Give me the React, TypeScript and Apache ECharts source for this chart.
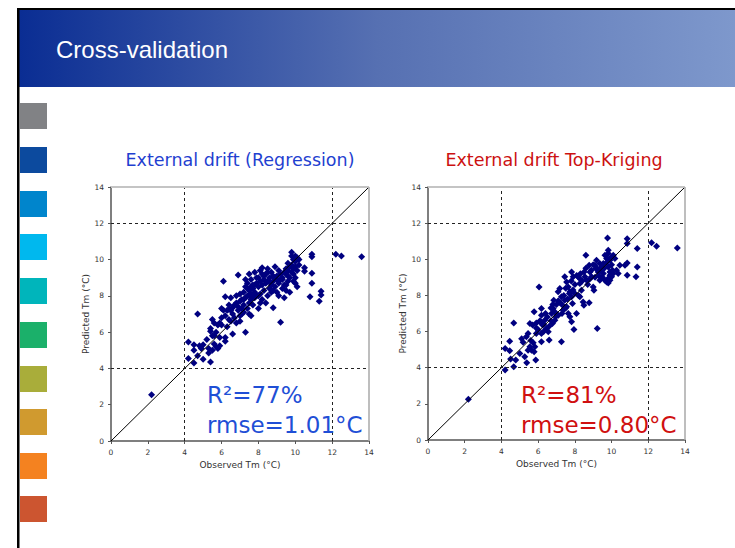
import React, { useEffect, useRef } from "react";
import * as echarts from "echarts";

// ---- data (observed, predicted) ----
const regressionPoints: [number, number][] = [
  [2.2, 2.55],
  [4.2, 5.45], [4.2, 4.55], [4.5, 5.3], [4.5, 5.0], [4.5, 4.3], [4.7, 4.7], [4.7, 7.0], [4.8, 5.25], [5.0, 4.5],
  [5.2, 5.6], [5.3, 4.85], [5.4, 4.35], [5.4, 6.2], [5.4, 6.05], [5.5, 5.0], [5.5, 6.7], [5.6, 5.8], [5.7, 5.2], [5.8, 5.1],
  [5.8, 6.4], [5.9, 5.25], [5.9, 6.5], [5.6, 5.35], [6.0, 6.8], [6.0, 7.3], [6.1, 7.2], [6.1, 8.8], [6.2, 7.95], [6.2, 5.7],
  [6.2, 5.5], [6.3, 7.2], [6.4, 7.25], [6.5, 7.2], [6.5, 6.6], [6.6, 5.9], [6.6, 7.35], [6.7, 7.5], [6.7, 6.8], [6.8, 8.0],
  [6.8, 7.6], [6.9, 9.15], [6.9, 7.4], [7.0, 6.9], [7.0, 7.7], [7.0, 8.1], [7.1, 7.0], [7.1, 7.8], [7.2, 8.2], [7.2, 7.5],
  [7.3, 6.0], [7.3, 7.9], [7.3, 8.5], [7.4, 7.3], [7.4, 8.0], [7.4, 8.7], [7.5, 9.2], [7.5, 8.3], [7.5, 7.6], [7.5, 7.0],
  [7.6, 8.9], [7.6, 8.1], [7.6, 7.8], [7.6, 6.9], [7.7, 8.6], [7.7, 8.4], [7.7, 7.5], [7.8, 9.3], [7.8, 8.2], [7.8, 7.9],
  [7.9, 8.7], [7.9, 8.0], [8.0, 9.0], [8.0, 7.3], [8.0, 8.5], [8.1, 9.4], [8.1, 8.1], [8.2, 9.55], [8.2, 8.6], [8.2, 7.8],
  [8.3, 8.9], [8.3, 8.3], [8.4, 8.7], [8.4, 9.2], [8.5, 9.5], [8.5, 8.0], [8.5, 8.8], [8.6, 9.0], [8.6, 8.4], [8.7, 9.3],
  [8.7, 8.6], [8.8, 7.35], [8.8, 9.1], [8.8, 8.8], [8.9, 9.6], [8.9, 8.5], [9.0, 8.9], [9.0, 9.1], [9.1, 8.0], [9.1, 8.7],
  [9.2, 6.55], [9.2, 8.9], [9.3, 8.4], [9.3, 9.0], [9.4, 7.9], [9.4, 8.6], [9.5, 9.2], [9.5, 9.5], [9.5, 8.3], [9.6, 9.8],
  [9.6, 9.4], [9.6, 8.8], [9.7, 9.6], [9.7, 9.0], [9.7, 8.2], [9.8, 10.4], [9.8, 10.2], [9.8, 9.3], [9.9, 10.0], [9.9, 8.8],
  [10.0, 9.9], [10.0, 9.6], [10.0, 8.7], [10.0, 9.0], [10.1, 10.1], [10.1, 9.4], [10.1, 8.5], [10.2, 10.0], [10.2, 9.7],
  [10.5, 9.55], [10.5, 9.35], [10.9, 10.3], [10.9, 10.15], [10.9, 9.25], [10.9, 8.7], [10.8, 7.95], [11.3, 7.7], [11.4, 8.25], [11.4, 8.05],
  [12.2, 10.3], [12.5, 10.2], [13.6, 10.15],
  [6.3, 6.3], [6.4, 6.7], [6.6, 7.0], [6.9, 7.2], [7.1, 7.3], [7.2, 7.8], [7.4, 8.4], [7.5, 8.0], [7.6, 8.5], [7.7, 8.0],
  [7.8, 8.6], [7.9, 9.0], [8.0, 8.0], [8.1, 8.8], [8.3, 9.1], [8.6, 8.8], [8.9, 9.0], [9.2, 9.2], [9.4, 9.3], [9.6, 9.1],
  [9.8, 9.7], [9.9, 9.5], [10.0, 10.2], [6.0, 6.4], [5.7, 6.0], [5.5, 5.8], [5.9, 5.7], [5.0, 5.3], [4.9, 5.1], [6.8, 6.5],
  [7.0, 6.6], [7.2, 7.1], [8.4, 7.6], [8.1, 7.6], [9.0, 8.2], [9.9, 9.2], [9.3, 8.9], [8.5, 9.3], [8.7, 8.2],
  [5.3, 5.1], [5.6, 6.5], [6.2, 6.9], [6.4, 7.5], [6.5, 7.9], [7.3, 8.9], [8.2, 9.2], [8.8, 8.3], [9.1, 9.4], [9.5, 8.6],
];

const topKrigingPoints: [number, number][] = [
  [2.2, 2.25],
  [4.2, 3.87], [4.2, 5.07], [4.45, 5.47], [4.45, 4.94], [4.5, 4.48], [4.67, 6.48], [4.67, 4.05], [4.78, 4.42], [5.0, 4.79],
  [5.27, 4.6], [5.38, 4.27], [5.18, 5.41], [5.36, 5.71], [5.45, 5.89], [5.55, 5.16], [5.45, 4.97], [5.64, 4.97], [5.73, 5.38], [5.82, 5.16],
  [5.78, 4.88], [5.87, 4.42], [5.55, 6.45], [5.7, 6.36], [5.78, 7.09], [6.05, 8.47], [5.9, 6.48], [6.09, 6.54], [6.24, 6.36], [6.18, 7.27],
  [6.18, 6.9], [6.18, 5.89], [6.18, 5.43], [6.36, 6.63], [6.45, 6.17], [6.55, 5.99], [6.6, 5.53], [6.73, 7.0], [6.82, 7.27], [6.85, 7.74],
  [6.78, 6.45], [6.91, 6.63], [6.96, 6.82], [7.09, 8.2], [7.18, 8.38], [7.27, 7.92], [7.33, 7.46], [7.36, 7.18], [7.27, 5.43], [7.45, 9.03],
  [7.55, 8.75], [7.64, 8.47], [7.45, 7.74], [7.55, 7.37], [7.64, 7.0], [7.73, 6.82], [7.82, 6.54], [7.73, 8.2], [7.82, 7.92], [7.87, 7.55],
  [7.82, 9.3], [7.91, 9.03], [7.95, 6.12], [8.09, 7.0], [8.18, 9.03], [8.27, 8.66], [8.36, 8.29], [8.27, 7.92], [8.45, 7.64], [8.49, 7.46],
  [8.6, 10.22], [8.55, 9.03], [8.64, 8.84], [8.78, 9.67], [8.82, 9.3], [8.91, 9.03], [9.0, 8.47], [9.04, 8.29], [8.78, 7.59], [9.09, 9.67],
  [9.15, 9.49], [9.18, 9.95], [9.27, 9.3], [9.36, 8.84], [9.22, 6.17], [9.55, 9.21], [9.64, 8.84], [9.73, 8.75], [9.82, 8.93], [9.91, 9.12],
  [9.95, 9.3], [9.78, 11.18], [9.82, 10.5], [9.82, 10.32], [9.91, 9.95], [10.0, 10.13], [10.09, 10.22], [10.18, 10.04], [9.82, 9.58], [9.91, 9.3],
  [10.0, 9.03], [10.09, 9.21], [10.05, 9.39], [9.91, 8.84], [9.82, 8.69], [10.45, 9.67], [10.73, 9.67], [10.85, 9.8], [10.85, 11.14], [10.85, 10.87],
  [10.85, 9.12], [11.33, 9.03], [11.4, 10.59], [11.4, 9.58], [12.18, 10.92], [12.45, 10.72], [13.58, 10.63], [9.55, 9.76], [9.45, 9.58], [9.36, 9.76],
  [10.27, 9.39], [10.36, 9.21], [9.64, 10.22], [9.73, 10.04],
  [6.3, 6.4], [6.5, 6.8], [6.7, 6.6], [6.9, 7.1], [7.0, 7.5], [7.1, 6.9], [7.2, 7.6], [7.3, 7.0], [7.4, 8.0], [7.5, 7.3],
  [7.6, 7.8], [7.7, 8.1], [7.8, 8.8], [7.9, 8.3], [8.0, 8.6], [8.1, 9.1], [8.2, 8.0], [8.3, 9.2], [8.4, 8.8], [8.5, 9.3],
  [8.6, 9.5], [8.7, 8.6], [8.9, 9.4], [9.0, 9.7], [9.1, 9.0], [9.2, 9.5], [9.3, 9.1], [9.4, 9.4], [9.5, 9.0], [9.6, 9.5],
  [9.7, 9.8], [9.8, 10.0], [10.0, 9.7], [6.0, 6.1], [6.1, 6.6], [5.9, 6.2], [6.3, 6.0], [6.6, 6.3], [6.8, 7.5],
  [5.1, 5.6], [5.6, 5.5], [5.9, 5.9], [6.4, 7.0], [6.7, 7.3], [7.1, 7.7], [7.5, 8.4], [8.0, 8.1], [8.3, 8.9], [8.8, 8.9],
];

const axisTicks = [0, 2, 4, 6, 8, 10, 12, 14];
const refLines = [4, 12];
const diagonal: [number, number][] = [[0, 0], [14, 14]];

const sideColors = [
  "#818285", "#0c4a9e", "#0085cc", "#00b8ee", "#00b5bb",
  "#1bb06a", "#a9ad3a", "#d09a2f", "#f48220", "#cc5530",
];
const squareTops = [103, 147, 191, 234, 278, 322, 366, 409, 453, 496];

const chartTitles = ["External drift (Regression)", "External drift Top-Kriging"];
const statsR2 = ["R²=77%", "R²=81%"];
const statsRmse = ["rmse=1.01°C", "rmse=0.80°C"];

const FONT = "DejaVu Sans";

export default function App() {
  const ref = useRef<HTMLDivElement>(null);

  useEffect(() => {
    document.body.style.margin = "0";
    if (!ref.current) return;
    const chart = echarts.init(ref.current, null, { renderer: "svg" });

    const grids = [
      { left: 111, top: 187, width: 258, height: 254 },
      { left: 428, top: 187, width: 257, height: 253 },
    ];
    const yNameGap = [19, 21];

    const mkX = (i: number) => ({
      type: "value",
      gridIndex: i,
      min: axisTicks[0],
      max: axisTicks[axisTicks.length - 1],
      interval: 2,
      name: "Observed Tm (°C)",
      nameLocation: "middle",
      nameGap: 19,
      nameTextStyle: { fontFamily: FONT, fontSize: 9, color: "#333" },
      axisLine: { show: true, lineStyle: { color: "#555", width: 1.5 } },
      axisTick: { show: true, inside: false, length: 3, lineStyle: { color: "#555" } },
      axisLabel: { fontFamily: FONT, fontSize: 7.5, color: "#333", margin: 7 },
      splitLine: { show: false },
    });
    const mkY = (i: number) => ({
      type: "value",
      gridIndex: i,
      min: axisTicks[0],
      max: axisTicks[axisTicks.length - 1],
      interval: 2,
      name: "Predicted Tm (°C)",
      nameLocation: "middle",
      nameRotate: 90,
      nameGap: yNameGap[i],
      nameTextStyle: { fontFamily: FONT, fontSize: 9, color: "#333" },
      axisLine: { show: true, lineStyle: { color: "#555", width: 1.5 } },
      axisTick: { show: true, inside: false, length: 3, lineStyle: { color: "#555" } },
      axisLabel: { fontFamily: FONT, fontSize: 7.5, color: "#333", margin: 7 },
      splitLine: { show: false },
    });

    const mkLines = (i: number) => ({
      type: "line",
      xAxisIndex: i,
      yAxisIndex: i,
      data: diagonal,
      symbol: "none",
      silent: true,
      z: 3,
      lineStyle: { color: "#000", width: 1 },
      markLine: {
        silent: true,
        symbol: "none",
        label: { show: false },
        data: [
          ...refLines.map((v) => ({ xAxis: v, lineStyle: { color: "#222", width: 1, type: [3, 3] } })),
          ...refLines.map((v) => ({ yAxis: v, lineStyle: { color: "#222", width: 1, type: [3, 3] } })),
          { yAxis: 14, lineStyle: { color: "#c4c4c4", width: 2, type: "solid" } },
          { xAxis: 14, lineStyle: { color: "#a8a8a8", width: 1.5, type: "solid" } },
        ],
      },
    });

    const mkScatter = (i: number, pts: [number, number][]) => ({
      type: "scatter",
      xAxisIndex: i,
      yAxisIndex: i,
      data: pts,
      symbol: "diamond",
      symbolSize: 7,
      z: 2,
      itemStyle: { color: "#000080", opacity: 1 },
    });

    const titleColors = ["#1f3fd0", "#cc1111"];
    const statColors = ["#1f4fd6", "#d01010"];
    const titleCenters = [240, 554];
    const statLeft = [207, 521];

    const graphics: any[] = [
      {
        type: "rect",
        shape: { x: 19, y: 8, width: 716, height: 79 },
        style: {
          fill: new echarts.graphic.LinearGradient(0, 0, 1, 0, [
            { offset: 0, color: "#0a2d93" },
            { offset: 0.5, color: "#5670b2" },
            { offset: 1, color: "#7e98cc" },
          ]),
        },
        silent: true,
      },
      { type: "rect", shape: { x: 17, y: 8, width: 718, height: 2 }, style: { fill: "#000" }, silent: true },
      { type: "rect", shape: { x: 17, y: 8, width: 2.5, height: 540 }, style: { fill: "#000" }, silent: true },
      {
        type: "text",
        x: 56,
        y: 49,
        style: {
          text: "Cross-validation",
          fill: "#fff",
          font: "24px 'Liberation Sans', Arial, sans-serif",
          verticalAlign: "middle",
          align: "left",
        },
        silent: true,
      },
      ...squareTops.map((t, k) => ({
        type: "rect",
        shape: { x: 20, y: t, width: 27, height: 26 },
        style: { fill: sideColors[k] },
        silent: true,
      })),
      ...chartTitles.map((txt, i) => ({
        type: "text",
        x: titleCenters[i],
        y: 160,
        style: {
          text: txt,
          fill: titleColors[i],
          font: `17.5px '${FONT}'`,
          align: "center",
          verticalAlign: "middle",
        },
        silent: true,
      })),
      ...statsR2.map((txt, i) => ({
        type: "text",
        x: statLeft[i],
        y: 395,
        z: 100,
        style: { text: txt, fill: statColors[i], font: `23px '${FONT}'`, align: "left", verticalAlign: "middle" },
        silent: true,
      })),
      ...statsRmse.map((txt, i) => ({
        type: "text",
        x: statLeft[i],
        y: 425,
        z: 100,
        style: { text: txt, fill: statColors[i], font: `23px '${FONT}'`, align: "left", verticalAlign: "middle" },
        silent: true,
      })),
    ];

    chart.setOption({
      animation: false,
      backgroundColor: "#fff",
      grid: grids,
      xAxis: [mkX(0), mkX(1)],
      yAxis: [mkY(0), mkY(1)],
      series: [
        mkScatter(0, regressionPoints),
        mkScatter(1, topKrigingPoints),
        mkLines(0),
        mkLines(1),
      ],
      graphic: graphics,
    });

    return () => chart.dispose();
  }, []);

  return (
    <div
      ref={ref}
      style={{ position: "absolute", left: 0, top: 0, width: 735, height: 548 }}
    />
  );
}
